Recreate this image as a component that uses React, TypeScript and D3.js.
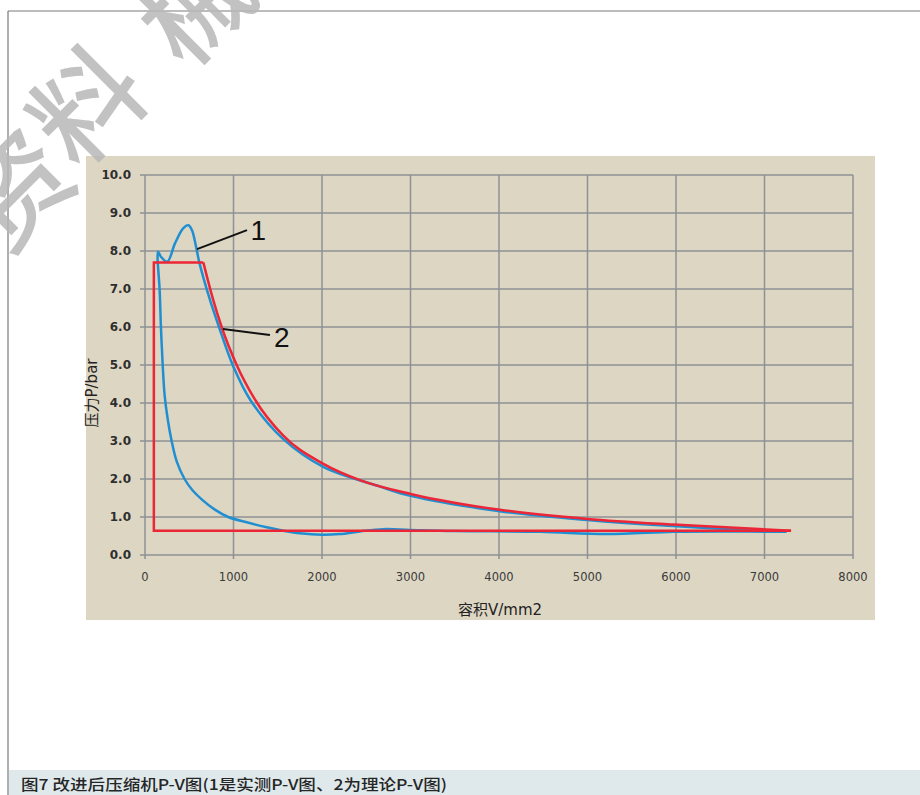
import React from "react";
import * as d3 from "d3";

// volume ticks (mm2) and pressure ticks (bar)
const volumeTicks = [0, 1000, 2000, 3000, 4000, 5000, 6000, 7000, 8000];
const pressureTicks = [0, 1, 2, 3, 4, 5, 6, 7, 8, 9, 10];

// theoretical cycle (2): straight sides
const theoryCornerV = [7300, 100, 100, 659];
const theoryCornerP = [0.64, 0.64, 7.7, 7.7];
// theoretical cycle (2): compression curve
const theoryCurveV = [659, 760, 866, 1036, 1240, 1563, 2015, 2429, 3013, 4011, 5000, 5966, 7300];
const theoryCurveP = [7.7, 6.8, 6.0, 5.0, 4.1, 3.14, 2.4, 1.97, 1.6, 1.19, 0.95, 0.8, 0.64];

// measured cycle (1), in cycle order
const measuredV = [
  7250, 6500, 5969, 5217, 4463, 3500, 2994, 2693, 2429, 2200, 2000, 1750, 1563, 1375, 1150, 940, 785, 647, 534,
  447, 360, 301, 255, 222, 200, 180, 165, 150, 142, 148, 180, 252, 339, 433, 490, 530, 584, 614, 716, 836, 1000,
  1190, 1563, 2015, 2655, 3013, 4011, 5000, 5966, 6600, 7250,
];
const measuredP = [
  0.61, 0.62, 0.61, 0.55, 0.61, 0.63, 0.66, 0.68, 0.62, 0.55, 0.53, 0.57, 0.64, 0.73, 0.86, 1.0, 1.2, 1.45, 1.71,
  2.0, 2.45, 3.0, 3.6, 4.2, 5.0, 6.0, 7.0, 7.5, 7.8, 7.98, 7.85, 7.72, 8.2, 8.6, 8.68, 8.55, 8.03, 7.7, 6.85, 6.0,
  4.95, 4.08, 3.05, 2.32, 1.8, 1.55, 1.15, 0.92, 0.76, 0.68, 0.61,
];

// callouts: [anchorV, anchorP, endV, endP, labelV, labelP]
const callouts = [
  { label: "1", pts: [588, 8.05, 1153, 8.55, 1280, 8.29] },
  { label: "2", pts: [881, 5.95, 1412, 5.79, 1545, 5.47] },
];

const caption = "图7 改进后压缩机P-V图(1是实测P-V图、2为理论P-V图)";

export default function App() {
  const x = d3.scaleLinear().domain([0, 8000]).range([145, 853]);
  const y = d3.scaleLinear().domain([0, 10]).range([555, 175]);

  const straight = d3
    .line<number>()
    .x((v) => x(v))
    .y((_, i) => y(theoryCornerP[i]));
  const theoryCurve = d3
    .line<number>()
    .x((v) => x(v))
    .y((_, i) => y(theoryCurveP[i]))
    .curve(d3.curveMonotoneX);
  const measured = d3
    .line<number>()
    .x((v) => x(v))
    .y((_, i) => y(measuredP[i]))
    .curve(d3.curveCatmullRom.alpha(0.5));

  const grid = "#8e9195";
  const wm = [
    { ch: "资", cx: 16, cy: 190 },
    { ch: "料", cx: 88, cy: 106 },
    { ch: "械", cx: 196, cy: 6 },
  ];

  return (
    <svg
      width={920}
      height={795}
      style={{ position: "absolute", left: 0, top: 0, display: "block", background: "#fff" }}
    >
      {/* page frame */}
      <line x1={8} y1={11} x2={920} y2={11} stroke="#7a7a7a" strokeWidth={1.2} />
      <line x1={8} y1={11} x2={8} y2={795} stroke="#7a7a7a" strokeWidth={1.2} />

      {/* chart panel */}
      <rect x={86} y={156} width={789} height={464} fill="#ddd6c3" />

      {/* grid */}
      {volumeTicks.map((v) => (
        <line key={"gx" + v} x1={x(v)} x2={x(v)} y1={y(10)} y2={y(0) + 4} stroke={grid} strokeWidth={1.5} />
      ))}
      {pressureTicks.map((p) => (
        <line key={"gy" + p} x1={x(0) - 5} x2={x(8000)} y1={y(p)} y2={y(p)} stroke={grid} strokeWidth={1.5} />
      ))}

      {/* tick labels */}
      {pressureTicks.map((p) => (
        <text
          key={"ly" + p}
          x={131}
          y={y(p)}
          dy="0.35em"
          textAnchor="end"
          fontFamily="DejaVu Sans"
          fontWeight="bold"
          fontSize={12}
          fill="#2e2e2e"
        >
          {p.toFixed(1)}
        </text>
      ))}
      {volumeTicks.map((v) => (
        <text
          key={"lx" + v}
          x={x(v)}
          y={581}
          textAnchor="middle"
          fontFamily="DejaVu Sans"
          fontSize={11.5}
          fill="#3a3a3a"
        >
          {v}
        </text>
      ))}

      {/* axis titles */}
      <text x={500} y={615} textAnchor="middle" fontFamily="DejaVu Sans, Noto Sans CJK SC" fontSize={15} fill="#222">
        容积V/mm2
      </text>
      <text
        transform="translate(97,393) rotate(-90)"
        textAnchor="middle"
        fontFamily="DejaVu Sans, Noto Sans CJK SC"
        fontSize={15}
        fill="#222"
      >
        压力P/bar
      </text>

      {/* curves */}
      <path d={measured(measuredV) || ""} fill="none" stroke="#1f8fd2" strokeWidth={2.5} />
      <path d={straight(theoryCornerV) || ""} fill="none" stroke="#ec2636" strokeWidth={2.5} />
      <path d={theoryCurve(theoryCurveV) || ""} fill="none" stroke="#ec2636" strokeWidth={2.5} />

      {/* callouts */}
      {callouts.map((c) => (
        <g key={c.label}>
          <line
            x1={x(c.pts[0])}
            y1={y(c.pts[1])}
            x2={x(c.pts[2])}
            y2={y(c.pts[3])}
            stroke="#111"
            strokeWidth={2}
          />
          <text
            x={x(c.pts[4])}
            y={y(c.pts[5])}
            textAnchor="middle"
            fontFamily="Liberation Sans, Arial"
            fontSize={28}
            fill="#111"
          >
            {c.label}
          </text>
        </g>
      ))}

      {/* caption band */}
      <rect x={9} y={770} width={911} height={25} fill="#dfe9eb" />
      <text
        x={21}
        y={790}
        fontFamily="Noto Sans CJK SC"
        fontWeight={500}
        fontSize={15}
        fill="#262626"
        textLength={426}
        lengthAdjust="spacingAndGlyphs"
      >
        {caption}
      </text>

      {/* watermark */}
      {wm.map((w) => (
        <text
          key={w.ch}
          transform={`translate(${w.cx},${w.cy}) rotate(-45)`}
          textAnchor="middle"
          dy="0.36em"
          fontFamily="Noto Sans CJK SC"
          fontWeight={500}
          fontSize={108}
          fill="#b8b8b8"
          opacity={0.85}
        >
          {w.ch}
        </text>
      ))}
    </svg>
  );
}
